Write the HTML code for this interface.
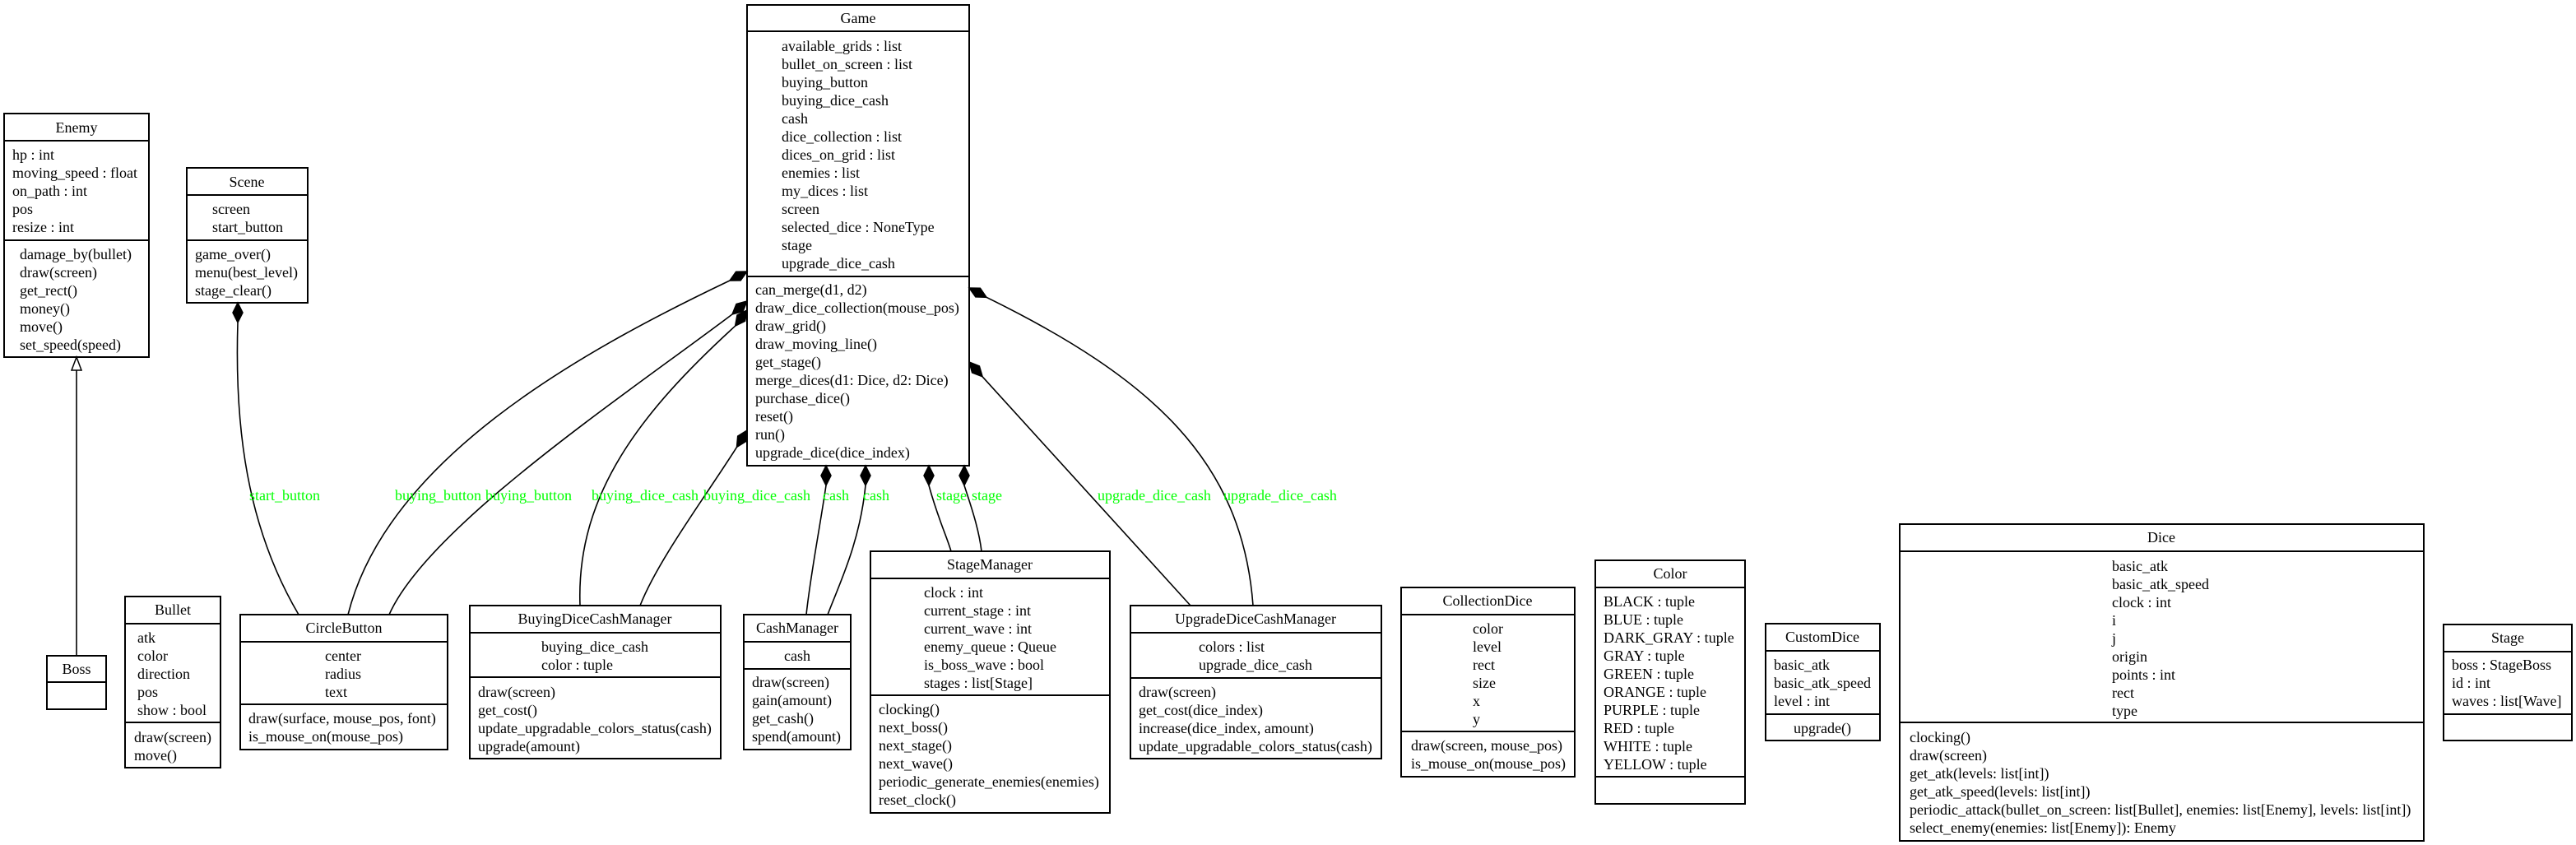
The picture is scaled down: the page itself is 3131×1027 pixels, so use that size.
<!DOCTYPE html>
<html><head><meta charset="utf-8"><style>
html,body{margin:0;padding:0;background:#fff;}
svg{display:block;}
text{font-family:"Liberation Serif",serif;font-size:18px;fill:#000;}
.c{text-anchor:middle;}
.g{fill:#00ff00;}
rect,line.s{stroke:#000;stroke-width:2;fill:none;}
path{stroke:#000;stroke-width:1.6;fill:none;}
polygon{stroke:#000;stroke-width:1.5;fill:#000;}
</style></head><body>
<svg width="3131" height="1027" viewBox="0 0 3131 1027" xmlns="http://www.w3.org/2000/svg">
<rect x="0" y="0" width="3131" height="1027" style="fill:#fff;stroke:none"/>

<!-- Enemy -->
<rect x="5" y="138" width="176" height="296"/>
<line class="s" x1="5" y1="171" x2="181" y2="171"/><line class="s" x1="5" y1="292" x2="181" y2="292"/>
<text class="c" x="93" y="161">Enemy</text>
<text x="15" y="194">hp : int</text><text x="15" y="216">moving_speed : float</text><text x="15" y="238">on_path : int</text><text x="15" y="260">pos</text><text x="15" y="282">resize : int</text>
<text x="24" y="315">damage_by(bullet)</text><text x="24" y="337">draw(screen)</text><text x="24" y="359">get_rect()</text><text x="24" y="381">money()</text><text x="24" y="403">move()</text><text x="24" y="425">set_speed(speed)</text>

<!-- Scene -->
<rect x="227" y="204" width="147" height="164"/>
<line class="s" x1="227" y1="237" x2="374" y2="237"/><line class="s" x1="227" y1="292" x2="374" y2="292"/>
<text class="c" x="300" y="227">Scene</text>
<text x="258" y="260">screen</text><text x="258" y="282">start_button</text>
<text x="237" y="315">game_over()</text><text x="237" y="337">menu(best_level)</text><text x="237" y="359">stage_clear()</text>

<!-- Game -->
<rect x="908" y="6" width="270" height="560"/>
<line class="s" x1="908" y1="38" x2="1178" y2="38"/><line class="s" x1="908" y1="336" x2="1178" y2="336"/>
<text class="c" x="1043" y="28">Game</text>
<text x="950" y="62">available_grids : list</text><text x="950" y="84">bullet_on_screen : list</text><text x="950" y="106">buying_button</text><text x="950" y="128">buying_dice_cash</text><text x="950" y="150">cash</text><text x="950" y="172">dice_collection : list</text><text x="950" y="194">dices_on_grid : list</text><text x="950" y="216">enemies : list</text><text x="950" y="238">my_dices : list</text><text x="950" y="260">screen</text><text x="950" y="282">selected_dice : NoneType</text><text x="950" y="304">stage</text><text x="950" y="326">upgrade_dice_cash</text>
<text x="918" y="358">can_merge(d1, d2)</text><text x="918" y="380">draw_dice_collection(mouse_pos)</text><text x="918" y="402">draw_grid()</text><text x="918" y="424">draw_moving_line()</text><text x="918" y="446">get_stage()</text><text x="918" y="468">merge_dices(d1: Dice, d2: Dice)</text><text x="918" y="490">purchase_dice()</text><text x="918" y="512">reset()</text><text x="918" y="534">run()</text><text x="918" y="556">upgrade_dice(dice_index)</text>

<!-- Boss -->
<rect x="57" y="797" width="72" height="65"/>
<line class="s" x1="57" y1="829" x2="129" y2="829"/>
<text class="c" x="93" y="819">Boss</text>

<!-- Bullet -->
<rect x="152" y="725" width="116" height="208"/>
<line class="s" x1="152" y1="758" x2="268" y2="758"/><line class="s" x1="152" y1="878" x2="268" y2="878"/>
<text class="c" x="210" y="747">Bullet</text>
<text x="167" y="781">atk</text><text x="167" y="803">color</text><text x="167" y="825">direction</text><text x="167" y="847">pos</text><text x="167" y="869">show : bool</text>
<text x="163" y="902">draw(screen)</text><text x="163" y="924">move()</text>

<!-- CircleButton -->
<rect x="292" y="747" width="252" height="164"/>
<line class="s" x1="292" y1="780" x2="544" y2="780"/><line class="s" x1="292" y1="856" x2="544" y2="856"/>
<text class="c" x="418" y="769">CircleButton</text>
<text x="395" y="803">center</text><text x="395" y="825">radius</text><text x="395" y="847">text</text>
<text x="302" y="879">draw(surface, mouse_pos, font)</text><text x="302" y="901">is_mouse_on(mouse_pos)</text>

<!-- BuyingDiceCashManager -->
<rect x="571" y="736" width="305" height="186"/>
<line class="s" x1="571" y1="769" x2="876" y2="769"/><line class="s" x1="571" y1="823" x2="876" y2="823"/>
<text class="c" x="723" y="758">BuyingDiceCashManager</text>
<text x="658" y="792">buying_dice_cash</text><text x="658" y="814">color : tuple</text>
<text x="581" y="847">draw(screen)</text><text x="581" y="869">get_cost()</text><text x="581" y="891">update_upgradable_colors_status(cash)</text><text x="581" y="913">upgrade(amount)</text>

<!-- CashManager -->
<rect x="904" y="747" width="130" height="164"/>
<line class="s" x1="904" y1="780" x2="1034" y2="780"/><line class="s" x1="904" y1="813" x2="1034" y2="813"/>
<text class="c" x="969" y="769">CashManager</text>
<text class="c" x="969" y="803">cash</text>
<text x="914" y="835">draw(screen)</text><text x="914" y="857">gain(amount)</text><text x="914" y="879">get_cash()</text><text x="914" y="901">spend(amount)</text>

<!-- StageManager -->
<rect x="1058" y="670" width="291" height="318"/>
<line class="s" x1="1058" y1="703" x2="1349" y2="703"/><line class="s" x1="1058" y1="845" x2="1349" y2="845"/>
<text class="c" x="1203" y="692">StageManager</text>
<text x="1123" y="726">clock : int</text><text x="1123" y="748">current_stage : int</text><text x="1123" y="770">current_wave : int</text><text x="1123" y="792">enemy_queue : Queue</text><text x="1123" y="814">is_boss_wave : bool</text><text x="1123" y="836">stages : list[Stage]</text>
<text x="1068" y="868">clocking()</text><text x="1068" y="890">next_boss()</text><text x="1068" y="912">next_stage()</text><text x="1068" y="934">next_wave()</text><text x="1068" y="956">periodic_generate_enemies(enemies)</text><text x="1068" y="978">reset_clock()</text>

<!-- UpgradeDiceCashManager -->
<rect x="1374" y="736" width="305" height="186"/>
<line class="s" x1="1374" y1="769" x2="1679" y2="769"/><line class="s" x1="1374" y1="824" x2="1679" y2="824"/>
<text class="c" x="1526" y="758">UpgradeDiceCashManager</text>
<text x="1457" y="792">colors : list</text><text x="1457" y="814">upgrade_dice_cash</text>
<text x="1384" y="847">draw(screen)</text><text x="1384" y="869">get_cost(dice_index)</text><text x="1384" y="891">increase(dice_index, amount)</text><text x="1384" y="913">update_upgradable_colors_status(cash)</text>

<!-- CollectionDice -->
<rect x="1703" y="714" width="211" height="230"/>
<line class="s" x1="1703" y1="747" x2="1914" y2="747"/><line class="s" x1="1703" y1="889" x2="1914" y2="889"/>
<text class="c" x="1808" y="736">CollectionDice</text>
<text x="1790" y="770">color</text><text x="1790" y="792">level</text><text x="1790" y="814">rect</text><text x="1790" y="836">size</text><text x="1790" y="858">x</text><text x="1790" y="880">y</text>
<text x="1715" y="912">draw(screen, mouse_pos)</text><text x="1715" y="934">is_mouse_on(mouse_pos)</text>

<!-- Color -->
<rect x="1939" y="681" width="182" height="296"/>
<line class="s" x1="1939" y1="714" x2="2121" y2="714"/><line class="s" x1="1939" y1="944" x2="2121" y2="944"/>
<text class="c" x="2030" y="703">Color</text>
<text x="1949" y="737">BLACK : tuple</text><text x="1949" y="759">BLUE : tuple</text><text x="1949" y="781">DARK_GRAY : tuple</text><text x="1949" y="803">GRAY : tuple</text><text x="1949" y="825">GREEN : tuple</text><text x="1949" y="847">ORANGE : tuple</text><text x="1949" y="869">PURPLE : tuple</text><text x="1949" y="891">RED : tuple</text><text x="1949" y="913">WHITE : tuple</text><text x="1949" y="935">YELLOW : tuple</text>

<!-- CustomDice -->
<rect x="2146" y="758" width="139" height="142"/>
<line class="s" x1="2146" y1="791" x2="2285" y2="791"/><line class="s" x1="2146" y1="868" x2="2285" y2="868"/>
<text class="c" x="2215" y="780">CustomDice</text>
<text x="2156" y="814">basic_atk</text><text x="2156" y="836">basic_atk_speed</text><text x="2156" y="858">level : int</text>
<text class="c" x="2215" y="891">upgrade()</text>

<!-- Dice -->
<rect x="2309" y="637" width="637" height="385"/>
<line class="s" x1="2309" y1="670" x2="2946" y2="670"/><line class="s" x1="2309" y1="878" x2="2946" y2="878"/>
<text class="c" x="2627" y="659">Dice</text>
<text x="2567" y="694">basic_atk</text><text x="2567" y="716">basic_atk_speed</text><text x="2567" y="738">clock : int</text><text x="2567" y="760">i</text><text x="2567" y="782">j</text><text x="2567" y="804">origin</text><text x="2567" y="826">points : int</text><text x="2567" y="848">rect</text><text x="2567" y="870">type</text>
<text x="2321" y="902">clocking()</text><text x="2321" y="924">draw(screen)</text><text x="2321" y="946">get_atk(levels: list[int])</text><text x="2321" y="968">get_atk_speed(levels: list[int])</text><text x="2321" y="990">periodic_attack(bullet_on_screen: list[Bullet], enemies: list[Enemy], levels: list[int])</text><text x="2321" y="1012">select_enemy(enemies: list[Enemy]): Enemy</text>

<!-- Stage -->
<rect x="2970" y="759" width="156" height="141"/>
<line class="s" x1="2970" y1="792" x2="3126" y2="792"/><line class="s" x1="2970" y1="868" x2="3126" y2="868"/>
<text class="c" x="3048" y="781">Stage</text>
<text x="2980" y="814">boss : StageBoss</text><text x="2980" y="836">id : int</text><text x="2980" y="858">waves : list[Wave]</text>

<!-- Inheritance Boss -> Enemy -->
<polygon points="93,434 99,450 87,450" style="fill:#fff"/>
<path d="M93,450 L93,797"/>

<!-- Scene - CircleButton -->
<polygon points="289,368 295,380 289,392 283,380"/>
<path d="M289,392 C285,520 300,640 363,747"/>

<!-- Game left edges -->
<polygon points="908,330 900.2,340.9 887,341 894.6,330.3"/>
<path d="M887,341 C700,430 470,560 423,747"/>
<polygon points="908,366 903,378.5 890,382 895,369.5"/>
<path d="M890,382 C760,480 520,640 473,747"/>
<polygon points="908,377 905.6,390.2 893.6,396.2 896,383"/>
<path d="M893.6,396.2 C780,500 700,600 705,736"/>
<polygon points="908,523 906.9,536.3 895.5,543.4 896.7,530.1"/>
<path d="M895.5,543.4 C860,600 800,680 778,736"/>

<!-- Game bottom edges -->
<polygon points="1004,566 1010,578 1004,590 998,578"/>
<path d="M1004,590 C995,650 985,700 980,747"/>
<polygon points="1052,566 1058,578 1052,590 1046,578"/>
<path d="M1052,590 C1045,660 1020,710 1006,747"/>
<polygon points="1129,566 1135,578 1129,590 1123,578"/>
<path d="M1129,590 C1140,630 1150,650 1156,670"/>
<polygon points="1172,566 1178,578 1172,590 1166,578"/>
<path d="M1172,590 C1182,620 1190,645 1193,670"/>

<!-- Game right edges -->
<polygon points="1178,350 1185.8,360.9 1199,361.3 1191.4,350.3"/>
<path d="M1199,361.3 C1400,460 1510,560 1523,736"/>
<polygon points="1178,440 1181.6,452.9 1194.1,457.8 1190.4,444.9"/>
<path d="M1194.1,457.8 L1447,736"/>

<!-- Labels -->
<text class="g" x="303" y="608">start_button</text>
<text class="g" x="480" y="608">buying_button</text>
<text class="g" x="590" y="608">buying_button</text>
<text class="g" x="719" y="608">buying_dice_cash</text>
<text class="g" x="855" y="608">buying_dice_cash</text>
<text class="g" x="1000" y="608">cash</text>
<text class="g" x="1049" y="608">cash</text>
<text class="g" x="1138" y="608">stage</text>
<text class="g" x="1181" y="608">stage</text>
<text class="g" x="1334" y="608">upgrade_dice_cash</text>
<text class="g" x="1487" y="608">upgrade_dice_cash</text>
</svg>
</body></html>
